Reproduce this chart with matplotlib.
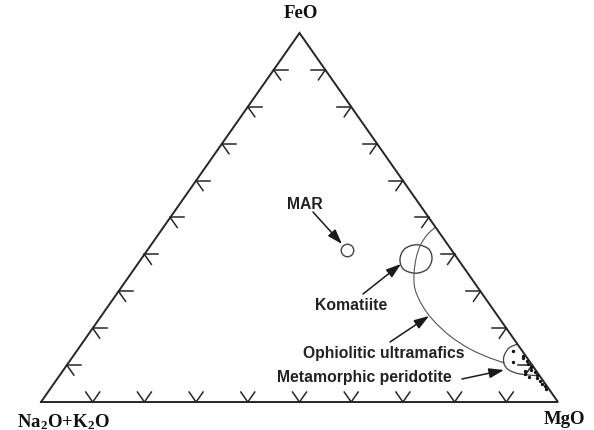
import numpy as np
import matplotlib
matplotlib.use("Agg")
import matplotlib.pyplot as plt
from matplotlib.path import Path
from matplotlib.patches import PathPatch

plt.rcParams['mathtext.fontset'] = 'custom'
plt.rcParams['mathtext.rm'] = 'Liberation Serif:bold'
plt.rcParams['mathtext.bf'] = 'Liberation Serif:bold'
plt.rcParams['mathtext.default'] = 'bf'

# ---------------- data (wt% : FeO, MgO ; Na2O+K2O = 100 - FeO - MgO) -------------
vertex_labels = ["FeO", r"Na$_2$O+K$_2$O", "MgO"]
tick_fracs = [10, 20, 30, 40, 50, 60, 70, 80, 90]

# MAR field (small circle)
mar_feo, mar_mgo = [41.2], [38.6]

# Komatiite field boundary (closed)
kom_feo = [38.75, 36.0, 34.9, 36.0, 38.75, 41.5, 42.6, 41.5]
kom_mgo = [56.25, 56.7, 55.0, 52.1, 50.06, 49.6, 51.3, 54.2]

# Ophiolitic ultramafics envelope (open curve)
oph_feo = [47.4, 45.26, 42.28, 38.75, 34.69, 30.62, 26.29, 22.22, 17.89, 14.36, 11.92, 10.57]
oph_mgo = [52.6, 52.03, 52.17, 53.15, 54.81, 57.03, 60.55, 64.71, 70.17, 75.80, 80.89, 84.47]

# Metamorphic peridotite field (open curve closing on MgO-FeO side)
met_feo = [15.7, 14.63, 12.47, 10.30, 8.67, 7.59, 7.1]
met_mgo = [84.3, 83.20, 83.33, 84.41, 86.18, 88.86, 92.9]

# sample points (FeO, Na2O+K2O)
pt_feo = [13.8, 10.8, 12.5, 11.8, 11.0, 10.2, 9.5, 8.8, 8.0, 7.3, 6.5, 5.8, 5.0, 4.3, 3.6, 8.3, 7.6, 6.9]
pt_alk = [1.8, 3.3, 0.5, 0.8, 0.4, 0.7, 0.5, 0.9, 0.5, 0.4, 0.8, 0.5, 0.6, 0.4, 0.5, 2.2, 2.6, 2.1]

# labels: text, label FeO, label MgO, arrow tail FeO, MgO, arrow head FeO, MgO
labels = ["MAR", "Komatiite", "Ophiolitic ultramafics", "Metamorphic peridotite"]
lab_feo = [53.66, 26.29, 13.55, 6.78]
lab_mgo = [24.23, 46.92, 59.56, 59.18]
tail_feo = [51.49, 29.27, 16.26, 6.23]
tail_mgo = [26.86, 47.65, 59.37, 78.31]
head_feo = [42.82, 37.40, 23.31, 8.67]
head_mgo = [36.81, 50.93, 63.40, 85.22]

# ---------------- helpers ----------------
H = np.sqrt(3) / 2


def tern(feo, mgo):
    feo = np.asarray(feo, float) / 100.0
    mgo = np.asarray(mgo, float) / 100.0
    return mgo + feo / 2.0, feo * H


def smooth_path(xs, ys, closed=False):
    P = np.column_stack([xs, ys])
    n = len(P)
    verts = [P[0]]
    codes = [Path.MOVETO]
    segs = n if closed else n - 1
    for i in range(segs):
        p0 = P[(i - 1) % n] if (closed or i > 0) else P[0]
        p1 = P[i]
        p2 = P[(i + 1) % n]
        p3 = P[(i + 2) % n] if (closed or i + 2 < n) else P[-1]
        c1 = p1 + (p2 - p0) / 6.0
        c2 = p2 - (p3 - p1) / 6.0
        verts += [c1, c2, p2]
        codes += [Path.CURVE4] * 3
    return Path(verts, codes)


fig = plt.figure(figsize=(5.94, 4.31), dpi=100)
ax = fig.add_axes([41 / 594, (431 - 403) / 431, 517 / 594, 369 / 431])
ax.set_xlim(0, 1)
ax.set_ylim(0, H)
ax.axis('off')

edge = '#262626'
# triangle
tx = [0, 1, 0.5, 0]
ty = [0, 0, H, 0]
ax.plot(tx, ty, color=edge, lw=1.4, solid_joinstyle='miter', clip_on=False)

# ticks
L = 0.027
d_up_left = np.array([-0.5, H])
d_up_right = np.array([0.5, H])
d_right = np.array([1.0, 0.0])
for f in tick_fracs:
    t = f / 100.0
    # base
    b = np.array([t, 0.0])
    for d in (d_up_left, d_up_right):
        ax.plot([b[0], b[0] + L * d[0]], [b[1], b[1] + L * d[1]], color=edge, lw=1.1, clip_on=False)
    # left side
    p = np.array([0.5 * t, H * t])
    for d in (d_right, -d_up_left):
        ax.plot([p[0], p[0] + L * d[0]], [p[1], p[1] + L * d[1]], color=edge, lw=1.1, clip_on=False)
    # right side
    q = np.array([1 - 0.5 * t, H * t])
    for d in (-d_right, -d_up_right):
        ax.plot([q[0], q[0] + L * d[0]], [q[1], q[1] + L * d[1]], color=edge, lw=1.1, clip_on=False)

# vertex labels
vfont = dict(family='Liberation Serif', weight='bold', fontsize=13.5, color='#111111')
ax.annotate(vertex_labels[0], xy=(0.5, H), xytext=(1, 20), textcoords='offset pixels',
            ha='center', va='center', **vfont)
ax.annotate(vertex_labels[1], xy=(0, 0), xytext=(22, -19), textcoords='offset pixels',
            ha='center', va='center', **vfont)
ax.annotate(vertex_labels[2], xy=(1, 0), xytext=(6, -17), textcoords='offset pixels',
            ha='center', va='center', **vfont)

# fields
fc = '#444444'
kx, ky = tern(kom_feo, kom_mgo)
ax.add_patch(PathPatch(smooth_path(kx, ky, closed=True), fill=False, ec=fc, lw=1.0))
ox, oy = tern(oph_feo, oph_mgo)
ax.add_patch(PathPatch(smooth_path(ox, oy), fill=False, ec='#555555', lw=0.8))
mx, my = tern(met_feo, met_mgo)
ax.add_patch(PathPatch(smooth_path(mx, my), fill=False, ec=fc, lw=0.9))
ax_, ay_ = tern(mar_feo, mar_mgo)
ax.plot(ax_, ay_, 'o', ms=9, mfc='white', mec=fc, mew=1.0)

pf = np.array(pt_feo)
pm = 100 - pf - np.array(pt_alk)
px, py = tern(pf, pm)
ax.plot(px, py, 'o', ms=2.4, color='#111111', mew=0, clip_on=False)

# labels & arrows
lfont = dict(family='Liberation Sans', weight='bold', fontsize=11.3, color='#222222')
for i, s in enumerate(labels):
    lx, ly = tern(lab_feo[i], lab_mgo[i])
    ax.text(lx, ly, s, ha='center', va='center', **lfont)
    t0 = tern(tail_feo[i], tail_mgo[i])
    h0 = tern(head_feo[i], head_mgo[i])
    ax.annotate('', xy=h0, xytext=t0,
                arrowprops=dict(arrowstyle='-|>,head_length=0.9,head_width=0.3',
                                color='#1a1a1a', lw=1.1, shrinkA=0, shrinkB=0))

fig.savefig('out.png', dpi=100)
